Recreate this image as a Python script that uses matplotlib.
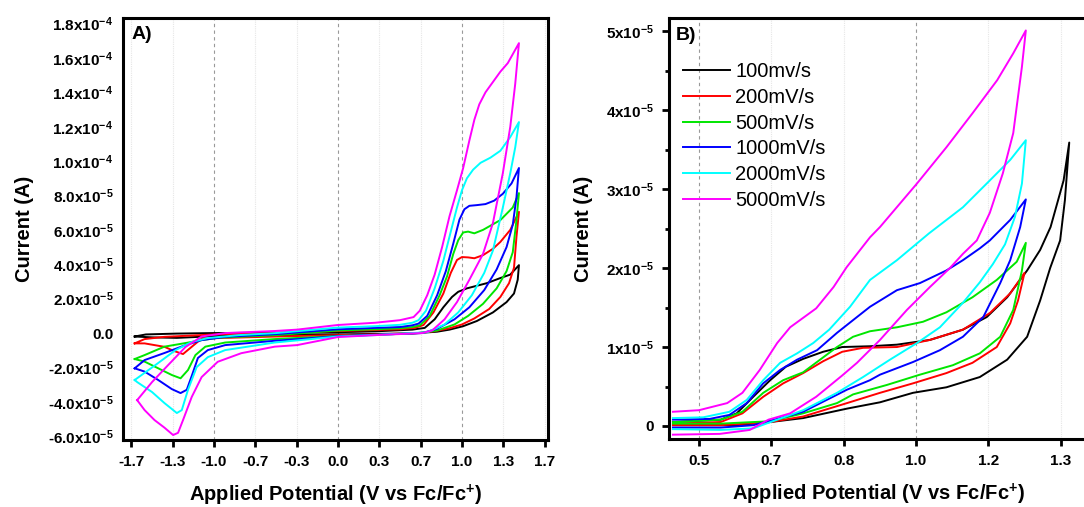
import numpy as np
import matplotlib
matplotlib.use("Agg")
import matplotlib.pyplot as plt
from matplotlib.ticker import FixedLocator, FuncFormatter, FormatStrFormatter, MultipleLocator

plt.rcParams['font.family'] = ['Liberation Sans', 'DejaVu Sans']
plt.rcParams['font.weight'] = 'bold'
plt.rcParams['mathtext.fontset'] = 'custom'
plt.rcParams['mathtext.rm'] = 'Liberation Sans:bold'
plt.rcParams['mathtext.it'] = 'Liberation Sans:bold'
plt.rcParams['mathtext.bf'] = 'Liberation Sans:bold'


####################### data ######################

# scan rates and colours
labels = ["100mv/s", "200mV/s", "500mV/s", "1000mV/s", "2000mV/s", "5000mV/s"]
colors = ["#000000", "#ff0000", "#00e600", "#0000ff", "#00ffff", "#ff00ff"]

# panel A: (potential V, current in 1e-5 A), upper side left->right then lower side right->left
a_100 = [(-1.64, -0.2), (-1.55, -0.08), (-1.3, -0.03), (-1.0, 0.0), (-0.5, 0.02), (0.0, 0.05), (0.3, 0.1),
         (0.6, 0.2), (0.70, 0.3), (0.78, 0.8), (0.85, 1.5), (0.92, 2.1), (0.97, 2.4), (1.04, 2.6), (1.2, 2.9),
         (1.31, 3.2), (1.39, 3.4), (1.46, 3.95),
         (1.45, 3.1), (1.42, 2.3), (1.36, 1.8), (1.25, 1.2), (1.12, 0.7), (1.01, 0.4), (0.90, 0.2),
         (0.80, 0.08), (0.6, -0.02), (0.3, -0.05), (0.0, -0.08), (-0.5, -0.12), (-1.0, -0.18),
         (-1.3, -0.28), (-1.5, -0.25), (-1.64, -0.2)]
a_200 = [(-1.64, -0.6), (-1.56, -0.35), (-1.4, -0.22), (-1.2, -0.15), (-1.0, -0.08), (-0.5, 0.0), (0.0, 0.12),
         (0.3, 0.18), (0.5, 0.22), (0.62, 0.3), (0.69, 0.47), (0.77, 1.2), (0.85, 2.3), (0.91, 3.5),
         (0.96, 4.25), (1.0, 4.42), (1.05, 4.4), (1.1, 4.35), (1.17, 4.53), (1.25, 4.9), (1.31, 5.3),
         (1.39, 6.0), (1.46, 7.05),
         (1.44, 5.6), (1.42, 3.8), (1.38, 2.9), (1.31, 2.1), (1.22, 1.4), (1.10, 0.85), (1.0, 0.5),
         (0.90, 0.28), (0.77, 0.1), (0.64, 0.0), (0.3, -0.08), (0.0, -0.12), (-0.5, -0.2), (-0.91, -0.28),
         (-1.10, -0.32), (-1.18, -0.8), (-1.25, -1.22), (-1.32, -1.05), (-1.40, -0.8), (-1.56, -0.6),
         (-1.64, -0.6)]
a_500 = [(-1.64, -1.51), (-1.56, -1.28), (-1.40, -0.79), (-1.23, -0.58), (-1.10, -0.41), (-0.96, -0.27),
         (-0.5, -0.12), (0.0, 0.15), (0.3, 0.22), (0.5, 0.28), (0.6, 0.35), (0.66, 0.45), (0.74, 1.0),
         (0.82, 2.2), (0.88, 3.3), (0.93, 4.6), (0.97, 5.4), (1.01, 5.85), (1.05, 5.9), (1.10, 5.8),
         (1.17, 6.0), (1.31, 6.57), (1.41, 7.3), (1.46, 8.14),
         (1.44, 6.57), (1.41, 4.7), (1.36, 3.6), (1.28, 2.6), (1.17, 1.7), (1.05, 1.0), (0.94, 0.5),
         (0.80, 0.15), (0.66, 0.0), (0.3, -0.1), (0.0, -0.17), (-0.51, -0.35), (-0.91, -0.55),
         (-1.07, -0.79), (-1.15, -1.28), (-1.21, -2.15), (-1.27, -2.63), (-1.34, -2.44), (-1.45, -2.05),
         (-1.56, -1.66), (-1.64, -1.51)]
a_1000 = [(-1.64, -2.05), (-1.56, -1.57), (-1.40, -1.16), (-1.23, -0.70), (-1.10, -0.41), (-0.91, -0.22),
          (-0.5, -0.06), (0.0, 0.22), (0.3, 0.3), (0.5, 0.35), (0.6, 0.45), (0.65, 0.55), (0.72, 1.0),
          (0.80, 2.2), (0.87, 3.6), (0.93, 5.2), (0.98, 6.6), (1.02, 7.2), (1.06, 7.4), (1.12, 7.44),
          (1.19, 7.5), (1.26, 7.7), (1.33, 8.1), (1.40, 8.7), (1.46, 9.6),
          (1.44, 7.9), (1.41, 6.3), (1.36, 5.0), (1.28, 3.7), (1.18, 2.5), (1.06, 1.5), (0.94, 0.8),
          (0.80, 0.25), (0.68, 0.0), (0.3, -0.1), (0.0, -0.18), (-0.51, -0.45), (-0.91, -0.70),
          (-1.05, -0.99), (-1.13, -1.45), (-1.18, -2.5), (-1.22, -3.3), (-1.27, -3.49), (-1.34, -3.26),
          (-1.45, -2.73), (-1.56, -2.24), (-1.64, -2.05)]
a_2000 = [(-1.64, -2.73), (-1.45, -1.74), (-1.31, -0.99), (-1.18, -0.52), (-1.05, -0.29), (-0.8, -0.12),
          (-0.5, 0.0), (0.0, 0.32), (0.3, 0.4), (0.5, 0.48), (0.6, 0.6), (0.65, 0.75), (0.71, 1.3),
          (0.78, 2.6), (0.85, 4.2), (0.91, 5.9), (0.96, 7.3), (1.0, 8.3), (1.04, 9.0), (1.09, 9.5),
          (1.15, 9.9), (1.23, 10.2), (1.31, 10.6), (1.39, 11.4), (1.46, 12.27),
          (1.43, 10.8), (1.39, 9.3), (1.33, 7.3), (1.25, 4.8), (1.18, 3.5), (1.08, 2.2), (0.97, 1.2),
          (0.86, 0.5), (0.72, 0.05), (0.3, -0.12), (0.0, -0.2), (-0.51, -0.55), (-0.91, -0.99),
          (-1.05, -1.40), (-1.14, -1.98), (-1.21, -3.3), (-1.26, -4.48), (-1.30, -4.65), (-1.40, -4.07),
          (-1.50, -3.43), (-1.62, -2.85), (-1.64, -2.73)]
a_5000 = [(-1.62, -3.90), (-1.50, -2.85), (-1.37, -1.86), (-1.23, -0.81), (-1.10, -0.2), (-0.91, 0.0),
          (-0.51, 0.12), (-0.33, 0.2), (0.0, 0.47), (0.3, 0.6), (0.5, 0.75), (0.61, 0.93), (0.66, 1.3),
          (0.72, 2.2), (0.78, 3.4), (0.84, 5.0), (0.90, 6.8), (0.96, 8.3), (1.01, 9.6), (1.06, 11.2),
          (1.10, 12.4), (1.14, 13.3), (1.19, 14.0), (1.25, 14.6), (1.31, 15.2), (1.37, 15.7), (1.46, 16.86),
          (1.43, 14.5), (1.39, 12.0), (1.33, 9.3), (1.25, 6.4), (1.17, 4.6), (1.06, 3.1), (0.96, 1.8),
          (0.86, 0.8), (0.76, 0.15), (0.68, 0.0), (0.3, -0.12), (0.0, -0.23), (-0.33, -0.70),
          (-0.51, -0.79), (-0.78, -1.17), (-0.97, -1.67), (-1.10, -2.56), (-1.18, -3.72), (-1.25, -5.06),
          (-1.29, -5.8), (-1.33, -5.93), (-1.40, -5.5), (-1.48, -5.06), (-1.56, -4.48), (-1.62, -3.90)]

# panel B: (potential V, current in 1e-5 A)
b_100 = [(0.44, 0.05), (0.55, 0.08), (0.587, 0.16), (0.625, 0.37), (0.664, 0.58), (0.70, 0.75), (0.74, 0.85),
         (0.786, 0.94), (0.83, 1.0), (0.894, 1.01), (0.956, 1.03), (1.032, 1.09), (1.108, 1.22),
         (1.163, 1.38), (1.21, 1.63), (1.256, 1.97), (1.286, 2.23), (1.31, 2.52), (1.34, 3.11), (1.353, 3.59),
         (1.343, 2.86), (1.332, 2.35), (1.309, 2.0), (1.286, 1.59), (1.256, 1.13), (1.21, 0.84),
         (1.147, 0.62), (1.07, 0.49), (0.993, 0.42), (0.917, 0.30), (0.841, 0.22), (0.74, 0.10),
         (0.664, 0.05), (0.587, 0.01), (0.44, 0.01)]
b_200 = [(0.44, 0.03), (0.55, 0.05), (0.60, 0.16), (0.648, 0.37), (0.694, 0.54), (0.74, 0.67), (0.786, 0.82),
         (0.83, 0.94), (0.878, 0.99), (0.956, 1.0), (1.032, 1.09), (1.108, 1.22), (1.17, 1.43),
         (1.217, 1.68), (1.25, 1.94),
         (1.235, 1.59), (1.217, 1.30), (1.186, 1.0), (1.13, 0.80), (1.07, 0.67), (0.993, 0.54),
         (0.917, 0.42), (0.841, 0.29), (0.74, 0.12), (0.664, 0.05), (0.55, 0.01), (0.44, 0.01)]
b_500 = [(0.44, 0.05), (0.55, 0.08), (0.60, 0.18), (0.648, 0.42), (0.694, 0.58), (0.74, 0.68), (0.779, 0.84),
         (0.818, 1.0), (0.855, 1.13), (0.894, 1.2), (0.956, 1.25), (1.016, 1.32), (1.07, 1.44), (1.13, 1.63),
         (1.186, 1.85), (1.232, 2.08), (1.253, 2.32),
         (1.244, 1.97), (1.224, 1.47), (1.194, 1.13), (1.147, 0.92), (1.085, 0.77), (1.009, 0.65),
         (0.933, 0.52), (0.855, 0.40), (0.818, 0.29), (0.74, 0.16), (0.664, 0.06), (0.55, 0.03), (0.44, 0.03)]
b_1000 = [(0.44, 0.08), (0.525, 0.09), (0.57, 0.14), (0.61, 0.29), (0.648, 0.54), (0.687, 0.71), (0.726, 0.84),
          (0.772, 0.96), (0.818, 1.18), (0.864, 1.38), (0.894, 1.51), (0.956, 1.72), (1.009, 1.81),
          (1.07, 1.97), (1.108, 2.1), (1.147, 2.25), (1.17, 2.35), (1.217, 2.61), (1.253, 2.87),
          (1.24, 2.52), (1.217, 2.1), (1.194, 1.81), (1.155, 1.38), (1.108, 1.13), (1.055, 0.96),
          (0.993, 0.81), (0.917, 0.65), (0.894, 0.58), (0.841, 0.46), (0.74, 0.18), (0.68, 0.09),
          (0.625, 0.01), (0.55, -0.02), (0.44, -0.02)]
b_2000 = [(0.44, 0.10), (0.51, 0.11), (0.57, 0.18), (0.61, 0.33), (0.648, 0.58), (0.687, 0.80), (0.726, 0.92),
          (0.763, 1.05), (0.80, 1.22), (0.848, 1.51), (0.894, 1.85), (0.956, 2.1), (1.03, 2.44),
          (1.108, 2.77), (1.17, 3.11), (1.217, 3.37), (1.253, 3.62),
          (1.244, 3.07), (1.228, 2.65), (1.205, 2.3), (1.177, 2.05), (1.147, 1.82), (1.108, 1.56),
          (1.055, 1.25), (1.002, 1.05), (0.94, 0.84), (0.878, 0.62), (0.818, 0.42), (0.74, 0.20),
          (0.68, 0.08), (0.625, -0.03), (0.55, -0.05), (0.44, -0.04)]
b_5000 = [(0.44, 0.18), (0.50, 0.20), (0.565, 0.29), (0.60, 0.42), (0.64, 0.71), (0.68, 1.05), (0.71, 1.25),
          (0.74, 1.37), (0.77, 1.49), (0.81, 1.76), (0.84, 2.01), (0.894, 2.39), (0.917, 2.52), (1.002, 3.07),
          (1.07, 3.53), (1.13, 3.96), (1.187, 4.38), (1.224, 4.72), (1.253, 5.01),
          (1.244, 4.55), (1.224, 3.71), (1.20, 3.2), (1.17, 2.7), (1.14, 2.35), (1.108, 2.18), (1.078, 2.0),
          (1.032, 1.76), (0.979, 1.47), (0.917, 1.09), (0.864, 0.80), (0.83, 0.64), (0.77, 0.37),
          (0.71, 0.16), (0.66, 0.08), (0.617, -0.05), (0.548, -0.10), (0.44, -0.11)]

a_curves = [a_100, a_200, a_500, a_1000, a_2000, a_5000]
b_curves = [b_100, b_200, b_500, b_1000, b_2000, b_5000]

a_xticks = np.arange(-5, 6) / 3
b_xticks = np.arange(3, 9) / 6
a_yticks = np.arange(-6, 19, 2) * 1e-5


###################### helpers #####################


def sci_label(v, decimals):
    if abs(v) < 1e-12:
        return "0.0" if decimals else "0"
    exp = int(np.floor(np.log10(abs(v)) + 1e-9))
    mant = v / 10 ** exp
    return f"{mant:.{decimals}f}x10$^{{{exp}}}$"


def style_axes(ax):
    for s in ax.spines.values():
        s.set_linewidth(2.2)
    ax.set_xlabel("Applied Potential (V vs Fc/Fc$^{+}$)", fontsize=14.5, fontweight='bold')
    ax.set_ylabel("Current (A)", fontsize=14.5, fontweight='bold')


###################### plotting ####################

fig = plt.figure(figsize=(10.84, 5.07), dpi=100)
ax_a = fig.add_axes([0.1135, 0.1321, 0.392, 0.832])
ax_b = fig.add_axes([0.6172, 0.1341, 0.3856, 0.830])

for pts, c in zip(a_curves, colors):
    v, i = np.array(pts).T
    ax_a.plot(v, i * 1e-5, color=c, lw=1.4)

for pts, c, lab in zip(b_curves, colors, labels):
    v, i = np.array(pts).T
    ax_b.plot(v, i * 1e-5, color=c, lw=1.4, label=lab)

# panel A axes
for t in a_xticks:
    if abs(t - round(t)) < 1e-6:
        ax_a.axvline(t, color='#999999', lw=0.8, ls=(0, (3, 3)), zorder=0)
    else:
        ax_a.axvline(t, color='#e6e6e6', lw=0.8, ls=(0, (1, 1)), zorder=0)
ax_a.set_xlim(-1.734, 1.694)
ax_a.set_ylim(-6.22e-5, 1.831e-4)
ax_a.xaxis.set_major_locator(FixedLocator(a_xticks))
ax_a.xaxis.set_major_formatter(FormatStrFormatter('%.1f'))
ax_a.yaxis.set_major_locator(FixedLocator(a_yticks))
ax_a.yaxis.set_major_formatter(FuncFormatter(lambda v, p: sci_label(v, 1)))
ax_a.tick_params(axis='x', direction='out', length=5, width=2, labelsize=11, pad=6)
ax_a.tick_params(axis='y', length=0, labelsize=11, pad=7)
style_axes(ax_a)
ax_a.xaxis.set_label_coords(0.5, -0.102)
ax_a.yaxis.set_label_coords(-0.209, 0.5)
ax_a.text(0.021, 0.981, "A)", transform=ax_a.transAxes, va='top', ha='left', fontsize=14, fontweight='bold')

# panel B axes
for t in b_xticks:
    if abs(t * 2 - round(t * 2)) < 1e-6:
        ax_b.axvline(t, color='#999999', lw=0.8, ls=(0, (3, 3)), zorder=0)
    else:
        ax_b.axvline(t, color='#e6e6e6', lw=0.8, ls=(0, (1, 1)), zorder=0)
ax_b.set_xlim(0.431, 1.394)
ax_b.set_ylim(-0.165e-5, 5.165e-5)
ax_b.xaxis.set_major_locator(FixedLocator(b_xticks))
ax_b.xaxis.set_major_formatter(FormatStrFormatter('%.1f'))
ax_b.yaxis.set_major_locator(MultipleLocator(1e-5))
ax_b.yaxis.set_minor_locator(MultipleLocator(0.5e-5))
ax_b.yaxis.set_major_formatter(FuncFormatter(lambda v, p: sci_label(v, 0)))
ax_b.tick_params(axis='both', which='major', direction='out', length=5, width=2, labelsize=11, pad=6)
ax_b.tick_params(axis='y', which='minor', direction='out', length=3, width=2)
style_axes(ax_b)
ax_b.xaxis.set_label_coords(0.5, -0.102)
ax_b.yaxis.set_label_coords(-0.182, 0.5)
ax_b.text(0.017, 0.979, "B)", transform=ax_b.transAxes, va='top', ha='left', fontsize=14, fontweight='bold')
ax_b.legend(loc='upper left', bbox_to_anchor=(0.0335, 0.895), frameon=False, borderpad=0,
            borderaxespad=0, handlelength=2.35, handletextpad=0.25, labelspacing=0.33,
            prop={'family': 'Liberation Sans', 'weight': 'normal', 'size': 14.5})

plt.savefig("out.png", dpi=100)
